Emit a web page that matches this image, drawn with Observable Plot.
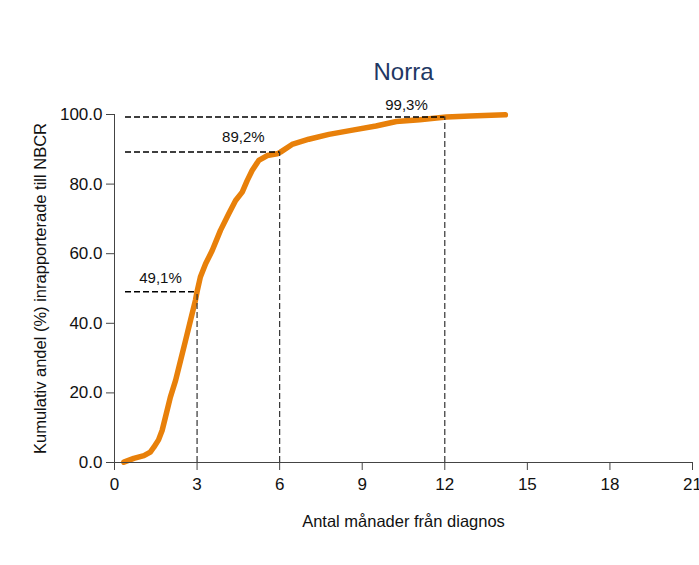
<!DOCTYPE html>
<html><head><meta charset="utf-8">
<script src="https://cdn.jsdelivr.net/npm/d3@7"></script>
<script src="https://cdn.jsdelivr.net/npm/@observablehq/plot@0.6"></script>
<style>
body{margin:0;background:#fff;font-family:"Liberation Sans",Arial,sans-serif}
#topline{position:absolute;top:13px;left:6px;right:0;border-top:1px solid #ececec}
#chart{position:absolute;top:0;left:0}
</style></head><body><div id="topline"></div><div id="chart"></div>
<script>
const months = [0.34, 0.70, 1.07, 1.30, 1.43, 1.60, 1.73, 1.85, 2.03, 2.22, 2.40, 2.58, 2.76, 2.94, 3.00, 3.12, 3.31, 3.55, 3.85, 4.15, 4.40, 4.64, 4.82, 5.00, 5.24, 5.55, 5.91, 6.03, 6.45, 7.06, 7.79, 8.65, 9.50, 10.24, 11.09, 11.70, 12.06, 12.92, 14.20];
const share  = [0.1, 1.2, 2.0, 3.0, 4.4, 6.5, 9.2, 13.0, 18.8, 23.6, 29.3, 35.0, 40.8, 46.6, 49.1, 53.3, 57.1, 60.9, 66.7, 71.5, 75.3, 77.7, 81.0, 83.9, 86.8, 88.2, 88.7, 89.2, 91.4, 92.9, 94.3, 95.5, 96.7, 98.0, 98.5, 99.0, 99.3, 99.6, 99.9];

const markMonths  = [3, 6, 12];
const markShares  = [49.1, 89.2, 99.3];
const markLabels  = ["49,1%", "89,2%", "99,3%"];
const labelMonths = [1.67, 4.68, 10.61];
const labelShares = [53.0, 93.4, 102.7];
const guideStart  = 0.4;

const xTicks = [0, 3, 6, 9, 12, 15, 18, 21];
const yTicks = [0, 20, 40, 60, 80, 100];

const titleText = "Norra";
const xLabel = "Antal månader från diagnos";
const yLabel = "Kumulativ andel (%) inrapporterade till NBCR";

const series = months.map((m, i) => ({month: m, share: share[i]}));
const guides = markMonths.map((m, i) => ({month: m, share: markShares[i], label: markLabels[i], lx: labelMonths[i], ly: labelShares[i]}));

const chart = Plot.plot({
  width: 699, height: 565,
  marginLeft: 114, marginRight: 7, marginTop: 114, marginBottom: 103,
  x: {domain: [0, 21]},
  y: {domain: [0, 100]},
  style: {fontFamily: '"Liberation Sans", Arial, sans-serif', background: "white", color: "#111"},
  marks: [
    Plot.line(series, {x: "month", y: "share", stroke: "#E8800A", strokeWidth: 5.5, strokeLinejoin: "round", strokeLinecap: "round"}),
    Plot.ruleY(guides, {y: "share", x1: guideStart, x2: "month", stroke: "#000", strokeWidth: 1.5, strokeDasharray: "6,3"}),
    Plot.ruleX(guides, {x: "month", y1: 0, y2: "share", stroke: "#333", strokeWidth: 1.2, strokeDasharray: "6,3"}),
    Plot.text(guides, {x: "lx", y: "ly", text: "label", fontSize: 15, fill: "#111", lineAnchor: "middle"}),
    Plot.ruleX([0], {stroke: "#444", strokeWidth: 1}),
    Plot.ruleY([0], {stroke: "#444", strokeWidth: 1}),
    Plot.axisX(xTicks, {tickSize: 8, tickPadding: 7, fontSize: 17, stroke: "#444", label: null}),
    Plot.axisY(yTicks, {tickSize: 8, tickPadding: 4, fontSize: 17, stroke: "#444", tickFormat: d => d.toFixed(1), label: null}),
    Plot.text([titleText], {frameAnchor: "top", dy: -42, fontSize: 24, fill: "#1F3864", lineAnchor: "middle"}),
    Plot.text([xLabel], {frameAnchor: "bottom", dy: 59, fontSize: 16.5, fill: "#111", lineAnchor: "middle"}),
    Plot.text([yLabel], {frameAnchor: "left", dx: -74, rotate: -90, fontSize: 16.5, fill: "#111", textAnchor: "middle", lineAnchor: "middle"})
  ]
});
document.getElementById("chart").appendChild(chart);
</script></body></html>
